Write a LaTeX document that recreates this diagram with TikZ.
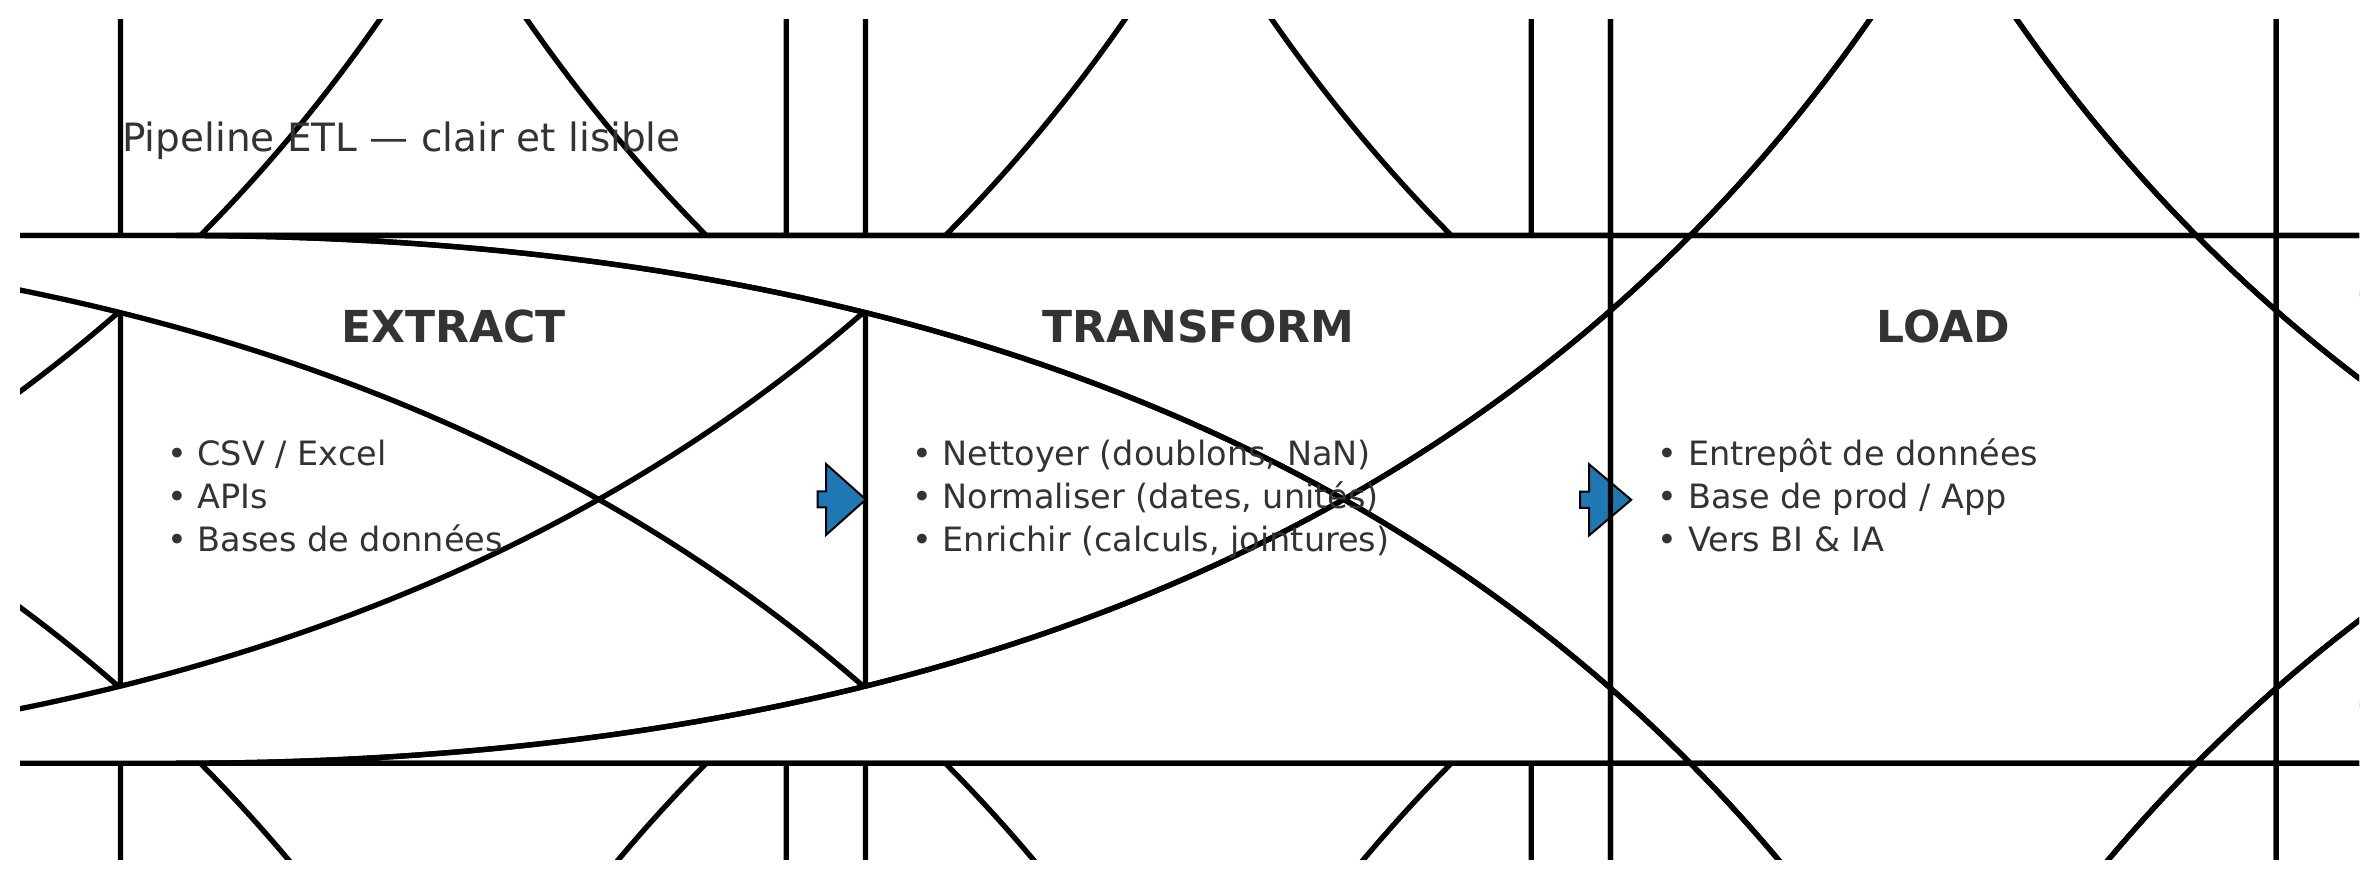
\documentclass[tikz,border=0pt]{standalone}
\usepackage{fontspec}
\setmainfont{DejaVu Sans}
\definecolor{txtgray}{HTML}{333333}
\definecolor{flowblue}{HTML}{1F77B4}
\def\etlDX{2100}
\def\etlDY{2371}
\def\etlYB{116.7}
\def\etlYT{644.5}
% rounded box whose rounding is larger than the box (quadratic corners as cubics)
\newcommand{\etlpanel}[3]{%
\path[#3] (#1+\etlDX,\etlYB) -- (#2-\etlDX,\etlYB)
 .. controls (#2-\etlDX/3,\etlYB) and (#2,\etlYB+\etlDY/3) .. (#2,\etlYB+\etlDY)
 -- (#2,\etlYT-\etlDY)
 .. controls (#2,\etlYT-\etlDY/3) and (#2-\etlDX/3,\etlYT) .. (#2-\etlDX,\etlYT)
 -- (#1+\etlDX,\etlYT)
 .. controls (#1+\etlDX/3,\etlYT) and (#1,\etlYT-\etlDY/3) .. (#1,\etlYT-\etlDY)
 -- (#1,\etlYB+\etlDY)
 .. controls (#1,\etlYB+\etlDY/3) and (#1+\etlDX/3,\etlYB) .. (#1+\etlDX,\etlYB) -- cycle;}
\begin{document}
\begin{tikzpicture}[x=1pt,y=1pt,
  panelbox/.style={fill=white,draw=black,line width=5.3pt,line join=miter},
  panelline/.style={draw=black,line width=5.3pt,line join=miter},
  flow/.style={fill=flowblue,draw=black,line width=2pt,line join=miter},
  titletext/.style={inner sep=0pt,anchor=base west,text=txtgray,font=\fontsize{39}{46}\selectfont},
  headtext/.style={inner sep=0pt,anchor=base,text=txtgray,font=\fontsize{44}{52}\selectfont\bfseries},
  itemtext/.style={inner sep=0pt,anchor=base west,text=txtgray,font=\fontsize{33.5}{40}\selectfont}]
\useasboundingbox (0,0) rectangle (2379,880);
\begin{scope}
  \clip (20,20) rectangle (2359,860);
  \etlpanel{120.5}{786.2}{panelbox}
  \etlpanel{865.5}{1531.2}{panelbox}
  \etlpanel{1610.5}{2276.2}{panelbox}
\end{scope}
% flow arrows
\draw[flow] (817.7,372.5) -- (826,372.5) -- (826,345) -- (865.8,380.5)
  -- (826,416) -- (826,388.5) -- (817.7,388.5) -- cycle;
\draw[flow] (1580,372) -- (1589,372) -- (1589,344.5) -- (1631.2,380.2)
  -- (1589,415.8) -- (1589,388.4) -- (1580,388.4) -- cycle;
\begin{scope}
  \clip (20,20) rectangle (2359,860);
  \etlpanel{1610.5}{2276.2}{panelline}
\end{scope}
% texts
\node[titletext] (title) at (122,728.3) {Pipeline ETL — clair et lisible};
\node[headtext] (hE) at (453.3,537) {EXTRACT};
\node[headtext] (hT) at (1198.3,537) {TRANSFORM};
\node[headtext] (hL) at (1943.3,537) {LOAD};
\node[itemtext] (e1) at (167,414) {• CSV / Excel};
\node[itemtext] (e2) at (167,371) {• APIs};
\node[itemtext] (e3) at (167,328) {• Bases de données};
\node[itemtext] (t1) at (912,414) {• Nettoyer (doublons, NaN)};
\node[itemtext] (t2) at (912,371) {• Normaliser (dates, unités)};
\node[itemtext] (t3) at (912,328) {• Enrichir (calculs, jointures)};
\node[itemtext] (l1) at (1657.5,414) {• Entrepôt de données};
\node[itemtext] (l2) at (1657.5,371) {• Base de prod / App};
\node[itemtext] (l3) at (1657.5,328) {• Vers BI \& IA};
\end{tikzpicture}
\end{document}
